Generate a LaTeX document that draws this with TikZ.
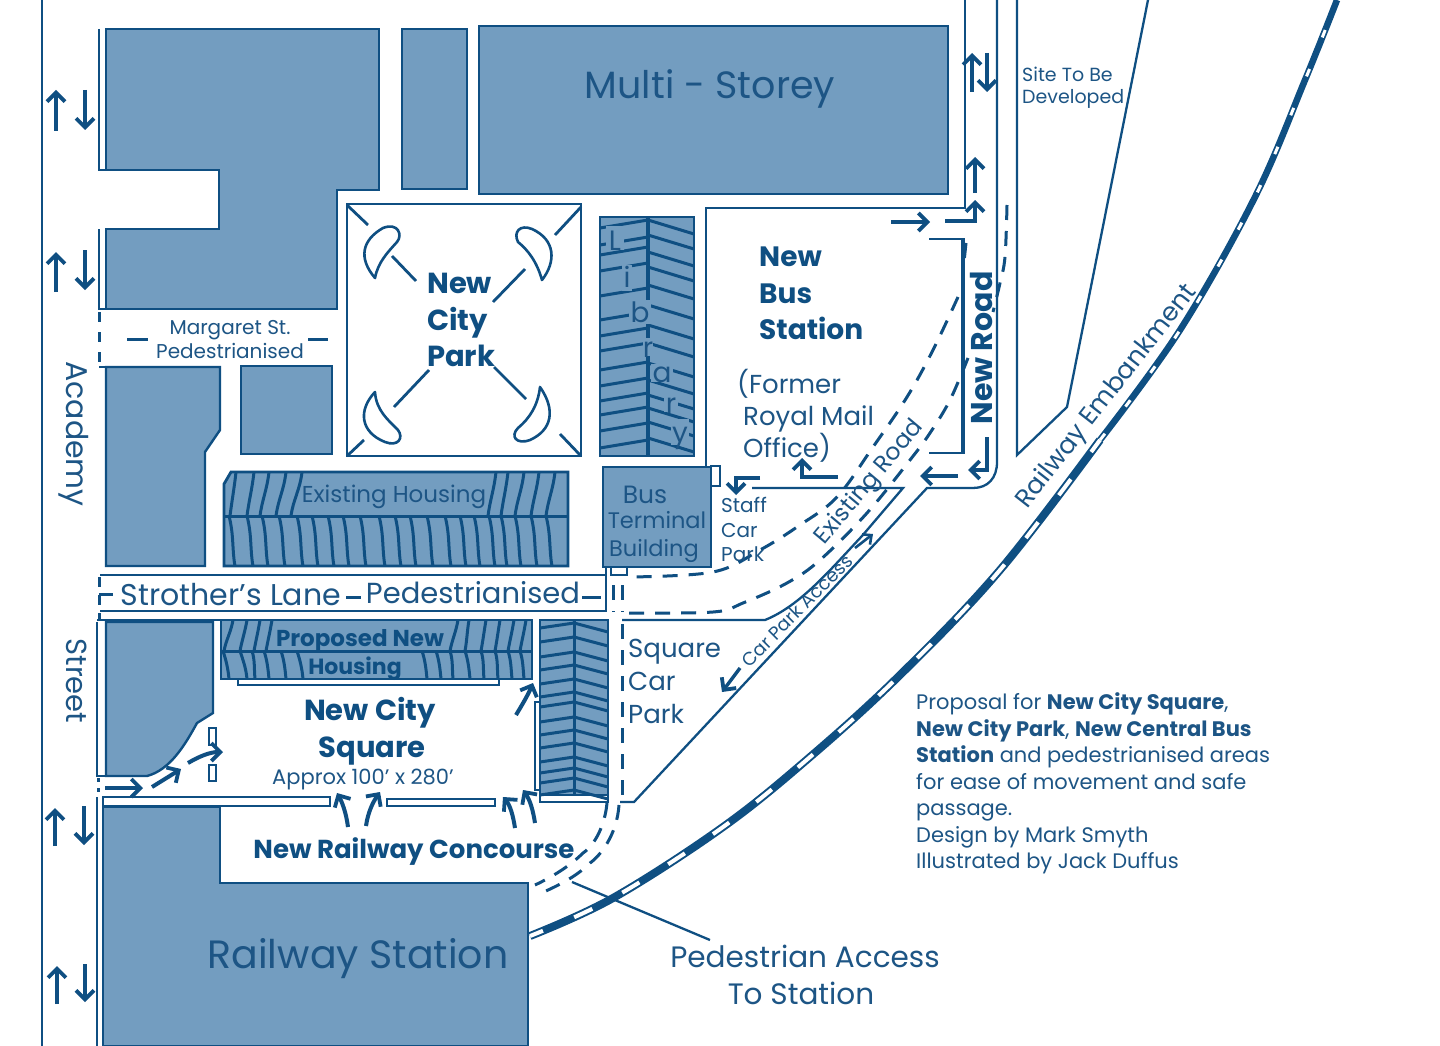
\documentclass[tikz,border=0pt]{standalone}
\usepackage{fontspec}
\setmainfont{Poppins}
\usetikzlibrary{arrows.meta}
\definecolor{ln}{HTML}{0F4F82}
\definecolor{fl}{HTML}{739DC0}
\definecolor{tx}{HTML}{1D5585}
\newcommand{\fsz}[1]{\fontsize{#1}{#1}\selectfont}
\tikzset{
 bld/.style={draw=ln,fill=fl,line width=2.4pt,line join=miter},
 road/.style={draw=ln,line width=2.3pt},
 strip/.style={draw=ln,fill=white,line width=2pt},
 stripe/.style={draw=ln,line width=3pt},
 arw/.style={draw=ln,line width=4pt,-{Straight Barb[length=9pt,width=18pt,line width=3.8pt]}},
 dsh/.style={draw=ln,line width=3pt,dash pattern=on 15pt off 11pt},
 lab/.style={text=tx,inner sep=0pt,font=\fsz{#1},text height=#1*.8pt,text depth=#1*.08pt},
 labl/.style={lab=#1,anchor=west},
 bl/.style={text=ln,inner sep=0pt,font=\fsz{#1}\bfseries,text height=#1*.8pt,text depth=#1*.08pt},
 bll/.style={bl=#1,anchor=west},
 libl/.style={lab=#1,inner sep=0pt},
}
\begin{document}
\begin{tikzpicture}[x=1pt,y=-1pt]
\useasboundingbox (0,0) rectangle (1440,1046);
\fill[white] (0,0) rectangle (1440,1046);
% roads
\draw[road] (42,0) -- (42,1046);
\draw[road] (99,29) -- (99,170) -- (106,170);
\draw[road] (99,229) -- (99,309) -- (336,309);
\draw[road] (333,190) -- (333,309);
\draw[road] (99,367) -- (220,367);
\draw[road] (965,0) -- (965,208) -- (706,208) -- (706,467);
\draw[road] (997,0) -- (997,462) .. controls (997,478) and (988,488) .. (973,488) -- (927,488) -- (634,802) -- (620,802);
\draw[road] (1017,0) -- (1017,455) -- (1067,407) -- (1148,0);
\draw[road] (752,488) -- (903,488) -- (862,536) .. controls (830,570) and (800,606) .. (765,620) -- (622,620);
\draw[road] (100,575) -- (606,575) -- (606,566);
\draw[road] (100,611) -- (606,611) -- (606,575);
\draw[road] (97,620) -- (220,620);
\draw[road] (97,622) -- (97,776) -- (147,776);
\draw[road] (97,797) -- (97,1046);
\draw[road] (103,797) -- (103,1046);
\draw[line width=2pt,draw=ln] (929,239) -- (963,239);
\draw[line width=4.5pt,draw=ln] (963,238) -- (963,454);
\draw[line width=2pt,draw=ln] (963,453) -- (929,453);
% railway
\draw[line width=8pt,draw=ln] plot[smooth,tension=.6] coordinates {(530,936) (613,898) (723,827) (810,757) (900,675) (1000,570) (1100,440)};
\draw[line width=6.5pt,draw=ln] plot[smooth,tension=.6] coordinates {(1100,440) (1180,330) (1255,197) (1305,80) (1337,0)};
\draw[line width=4pt,white,dash pattern=on 20pt off 34pt,dash phase=6pt] plot[smooth,tension=.6] coordinates {(530,936) (613,898) (723,827) (810,757) (900,675) (1000,570) (1100,440)};
\draw[line width=3pt,white,dash pattern=on 8pt off 34pt] plot[smooth,tension=.6] coordinates {(1100,440) (1180,330) (1255,197) (1305,80) (1337,0)};
% buildings
\path[bld] (106,29) -- (379,29) -- (379,190) -- (337,190) -- (337,309) -- (106,309) -- (106,229) -- (219,229) -- (219,170) -- (106,170) -- cycle;
\path[bld] (402,29) rectangle (467,189);
\path[bld] (479,26) rectangle (948,194);
\path[bld] (106,367) -- (220,367) -- (220,430) -- (205,452) -- (205,566) -- (106,566) -- cycle;
\path[bld] (241,366) rectangle (332,454);
\path[bld] (106,622) -- (213,622) -- (213,713) -- (197,723) .. controls (185,745) and (170,770) .. (147,776) -- (106,776) -- cycle;
\path[bld] (103,807) -- (220,807) -- (220,883) -- (528,883) -- (528,1046) -- (103,1046) -- cycle;
\path[strip] (103,797) rectangle (330,806);
\path[strip] (387,799) rectangle (495,806);
\path[strip] (540,790) rectangle (608,802);
\draw[road] (540,702) -- (535,702) -- (535,790) -- (540,790);
\path[strip] (238,678) rectangle (499,685);
\path[strip] (209,728) rectangle (216,745);
\path[strip] (209,765) rectangle (216,781);
% park
\draw[road,line width=2.4pt] (347,204) rectangle (581,456);
\draw[road,line width=2.8pt] (347,205) -- (368,225);
\draw[road,line width=2.8pt] (392,256) -- (416,281);
\draw[road,line width=2.8pt] (581,207) -- (555,235);
\draw[road,line width=2.8pt] (525,269) -- (493,302);
\draw[road,line width=2.8pt] (429,370) -- (394,407);
\draw[road,line width=2.8pt] (364,440) -- (347,456);
\draw[road,line width=2.8pt] (494,367) -- (526,399);
\draw[road,line width=2.8pt] (560,434) -- (581,456);
\draw[road,line width=2.6pt,line join=round] (375,278) .. controls (358,258) and (362,240) .. (383,228) .. controls (398,222) and (403,235) .. (397,242) .. controls (388,252) and (378,262) .. cycle;
\draw[road,line width=2.6pt,line join=round] (542,280) .. controls (556,262) and (556,240) .. (532,229) .. controls (520,224) and (513,232) .. (518,242) .. controls (528,250) and (537,262) .. cycle;
\draw[road,line width=2.6pt,line join=round] (375,392) .. controls (358,410) and (360,432) .. (385,442) .. controls (398,447) and (404,438) .. (398,430) .. controls (388,420) and (376,410) .. cycle;
\draw[road,line width=2.6pt,line join=round] (540,387) .. controls (556,410) and (552,430) .. (530,440) .. controls (516,445) and (510,436) .. (518,428) .. controls (530,418) and (538,405) .. cycle;
% library
\path[bld] (600,217) rectangle (694,456);
\draw[stripe,line width=3.4pt] (648,217) -- (648,456);
\foreach \y/\z in {220/220,237/235,247/252,263/267,288/285,312/305,328/325,343/343,362/363,378/380,393/395,407/408,423/422,440/438}{
 \pgfmathsetmacro{\yy}{\y+8}\pgfmathsetmacro{\zz}{\z+14}
 \draw[stripe] (600,\yy) -- (648,\y);
 \draw[stripe] (648,\z) -- (694,\zz);
}
% letter clearings in the library roof
\foreach \x/\y/\w/\h in {615/238/9/12,627/278/5/13,640/312/11/12,648/347/5/9,662/373/11/9,671/403/7/9,680/432/9/13}{
 \fill[fl] (\x-\w,\y-\h) rectangle (\x+\w,\y+\h);
}
% terminal
\path[bld] (603,467) rectangle (711,567);
\path[strip] (711,466) rectangle (720,486);
\path[strip] (611,567) rectangle (627,575);
% existing housing
\path[bld,line width=2.8pt] (231,472) -- (568,472) -- (568,566) -- (224,566) -- (224,484) -- cycle;
\draw[stripe,line width=3pt] (224,516) -- (568,516);
\foreach \a/\b in {230/236,247/254,260/269,276/286,291/302,488/496,501/508,515/524,531/539,546/555}{
 \draw[stripe] (\a,516) .. controls (\a+2,500) and (\b-2,490) .. (\b,472);
}
\foreach \a in {229,247,262,279,297,312,328,343,360,379,395,410,427,445,460,474,489,501,515,531,546}{
 \draw[stripe] (\a,516) .. controls (\a+5,535) and (\a+3,550) .. (\a+6,566);
}
% proposed housing
\path[bld,line width=2.8pt] (221,620) rectangle (532,679);
\draw[stripe,line width=3pt] (221,651) -- (532,651);
\foreach \a/\b in {224/233,240/247,254/260,266/272,450/458,465/469,481/486,495/500,508/514,520/526}{
 \draw[stripe] (\a,651) .. controls (\a+2,640) and (\b-2,632) .. (\b,620);
}
\foreach \a/\b in {223/229,240/247,252/255,264/269,281/286,297/303,422/427,436/441,450/453,465/470,481/484,495/498,508/512,520/524}{
 \draw[stripe] (\a,651) .. controls (\a+3,660) and (\b-1,668) .. (\b,679);
}
% right block
\path[bld,line width=2.8pt] (540,620) rectangle (608,795);
\draw[stripe,line width=3pt] (574,620) -- (574,795);
\foreach \y in {623,637,652,665,679,692,702,717,730,743,757,768,778,790}{
 \draw[stripe] (540,\y+5) -- (574,\y);
 \draw[stripe] (574,\y) -- (608,\y+9);
}
% dashed paths
\draw[dsh] (613,585) -- (613,612);
\draw[dsh] (622,585) -- (622,612);
\draw[dsh] (622,624) -- (622,803);
\draw[dsh] (619,805) .. controls (617,835) and (600,856) .. (590,863) .. controls (575,878) and (555,887) .. (537,895);
\draw[dsh] (607,803) .. controls (605,825) and (595,845) .. (583,853) .. controls (570,866) and (552,877) .. (535,885);
\draw[dsh] (966,243) -- (964,262);
\draw[dsh] plot[smooth,tension=.6] coordinates {(958,297) (933,350) (907,397) (873,447) (837,497) (800,525) (760,550) (713,572) (628,577)};
\draw[dsh] plot[smooth,tension=.6] coordinates {(1007,205) (1005,257) (1000,283) (993,312)};
\draw[dsh] plot[smooth,tension=.6] coordinates {(968,358) (950,400) (930,433) (910,460) (867,513) (820,560) (787,583) (743,603) (713,612) (623,613)};
\draw[dsh,dash pattern=on 10pt off 10pt] (99,312) -- (99,365);
\draw[dsh,dash pattern=on 10pt off 8pt] (99,577) -- (99,620);
\draw[dsh,dash pattern=on 4pt off 6pt,line width=3pt] (98,778) -- (98,796);
\draw[stripe] (99,594) -- (113,594);
\draw[stripe] (346,597) -- (361,597);
\draw[stripe] (582,597) -- (601,597);
\draw[stripe] (127,339) -- (148,339);
\draw[stripe] (308,339) -- (328,339);
% pedestrian leader
\coordinate (pa) at (572,882);
\coordinate (pb) at (710,940);
\draw[road] (pa) -- (pb);
% arrows
\foreach \x/\a/\b in {56/131/90,85/90/130,56/292/252,85/250/290,55/846/808,84/806/845,57/1004/966,85/964/1002,972/92/53,987/53/92,975/193/157}{
 \draw[arw] (\x,\a) -- (\x,\b);
}
\draw[arw] (945,221) -- (975,221) -- (975,200);
\draw[arw] (891,222) -- (930,222);
\draw[arw] (987,437) -- (987,470) -- (968,470);
\draw[arw] (958,476) -- (920,476);
\draw[arw] (838,477) -- (802,477) -- (802,458);
\draw[arw] (760,478) -- (736,478) -- (736,495);
\draw[arw,line width=3.4pt] (740,668) -- (722,692);
\draw[arw,line width=2.6pt,-{Straight Barb[length=7pt,width=13pt,line width=2.6pt]}] (855,548) -- (873,534);
\draw[arw] (105,788) -- (143,788);
\draw[arw] (152,787) -- (181,769);
\draw[arw] (188,763) .. controls (200,756) and (210,752) .. (223,752);
\draw[arw] (516,715) .. controls (522,705) and (528,695) .. (533,683);
\draw[arw] (515,828) .. controls (513,815) and (510,805) .. (503,797);
\draw[arw] (535,823) .. controls (533,810) and (530,800) .. (523,790);
\draw[arw] (348,827) .. controls (346,812) and (342,802) .. (337,793);
\draw[arw] (366,826) .. controls (368,812) and (373,802) .. (380,792);
% texts
\node[lab=38] (ms) at (710,85) {Multi - Storey};
\node[labl=19] (s1) at (1022,75) {Site To Be};
\node[labl=19] (s2) at (1022,97) {Developed};
\node[bll=28] (b1) at (759,256) {New};
\node[bll=28] (b2) at (759,293) {Bus};
\node[bll=28] (b3) at (759,329) {Station};
\node[labl=26] (f1) at (737,384) {(Former};
\node[labl=26] (f2) at (743,416) {Royal Mail};
\node[labl=26] (f3) at (743,448) {Office)};
\node[bll=29] (p1) at (427,283) {New};
\node[bll=29] (p2) at (427,320) {City};
\node[bll=29] (p3) at (427,356) {Park};
\foreach \c/\x/\y/\n in {L/615/240/l1,i/627/277/l2,b/640/312/l3,r/648/347/l4,a/662/372/l5,r/671/403/l6,y/680/432/l7}{
 \node[libl=28] (\n) at (\x,\y) {\c};
}
\node[lab=23] (eh) at (394,494) {Existing Housing};
\node[lab=25] (t1) at (645,494) {Bus};
\node[lab=22.5] (t2) at (657,520) {Terminal};
\node[lab=22.5] (t3) at (654,548) {Building};
\node[labl=20] (c1) at (721,505) {Staff};
\node[labl=20] (c2) at (721,530) {Car};
\node[labl=20] (c3) at (721,554) {Park};
\node[lab=20] (m1) at (230,327) {Margaret St.};
\node[lab=20] (m2) at (230,351) {Pedestrianised};
\node[lab=30,rotate=-90] (ac) at (77,434) {Academy};
\node[lab=29,rotate=-90] (st) at (77,681) {Street};
\node[lab=30] (sl) at (231,595) {Strother's Lane};
\node[lab=29] (pd) at (473,593) {Pedestrianised};
\node[bl=23] (h1) at (360,638) {Proposed New};
\node[bl=22] (h2) at (355,667) {Housing};
\node[bl=29] (q1) at (370,710) {New City};
\node[bl=29] (q2) at (372,747) {Square};
\node[lab=21] (q3) at (363,777) {Approx 100' x 280'};
\node[bl=26] (rc) at (414,849) {New Railway Concourse};
\node[lab=39.5] (rs) at (358,954) {Railway Station};
\node[labl=26] (k1) at (628,648) {Square};
\node[labl=26] (k2) at (628,681) {Car};
\node[labl=26] (k3) at (628,714) {Park};
\node[lab=18.5,rotate=45] (ca) at (797,611) {Car Park Access};
\node[lab=23.5,rotate=50] (er) at (868,481) {Existing Road};
\node[bl=30,rotate=90] (nr) at (982,348) {New Road};
\node[lab=25.5,rotate=52] (re) at (1105,395) {Railway Embankment};
\node[lab=29.5] (pa1) at (805,957) {Pedestrian Access};
\node[lab=29.5] (pa2) at (801,994) {To Station};
\node[labl=21] (d1) at (916,702) {Proposal for \textbf{New City Square},};
\node[labl=21] (d2) at (916,729) {\textbf{New City Park}, \textbf{New Central Bus}};
\node[labl=21] (d3) at (916,755) {\textbf{Station} and pedestrianised areas};
\node[labl=21] (d4) at (916,782) {for ease of movement and safe};
\node[labl=21] (d5) at (916,808) {passage.};
\node[labl=21] (d6) at (916,835) {Design by Mark Smyth};
\node[labl=21] (d7) at (916,861) {Illustrated by Jack Duffus};
\end{tikzpicture}
\end{document}
